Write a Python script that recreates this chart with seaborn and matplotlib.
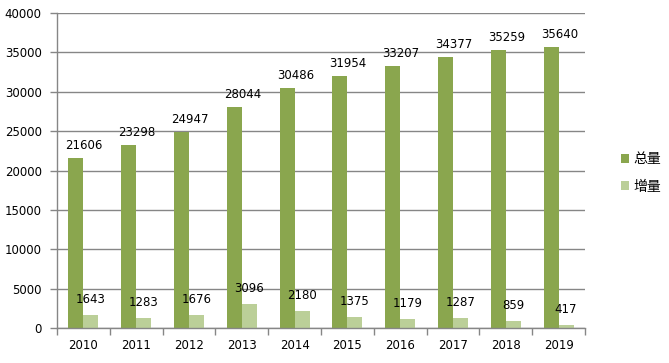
import pandas as pd
import matplotlib.pyplot as plt
from matplotlib.ticker import FixedLocator
import seaborn as sns

# data
years = ['2010', '2011', '2012', '2013', '2014', '2015', '2016', '2017', '2018', '2019']
total = [21606, 23298, 24947, 28044, 30486, 31954, 33207, 34377, 35259, 35640]
increase = [1643, 1283, 1676, 3096, 2180, 1375, 1179, 1287, 859, 417]
series_names = ['总量', '增量']
y_ticks = [0, 5000, 10000, 15000, 20000, 25000, 30000, 35000, 40000]

df = pd.DataFrame({
    'year': years * 2,
    'value': total + increase,
    'series': [series_names[0]] * len(years) + [series_names[1]] * len(years),
})

sns.set_theme(style='white')
plt.rcParams['font.family'] = ['DejaVu Sans', 'Noto Sans CJK SC']
plt.rcParams['text.color'] = 'black'

grid_c = '#868686'
colors = ['#8AA64E', '#BBCF98']

fig = plt.figure(figsize=(6.69, 3.63), dpi=100)
ax = fig.add_axes([57 / 669, 35 / 363, 528 / 669, 315 / 363])

sns.barplot(data=df, x='year', y='value', hue='series', palette=colors,
            width=0.57, saturation=1, linewidth=0, ax=ax, legend=True)

ax.set_xlim(-0.5, len(years) - 0.5)
ax.set_ylim(0, 40000)
ax.set_yticks(y_ticks)
ax.yaxis.grid(True, color=grid_c, linewidth=1)
ax.set_axisbelow(True)
ax.set_xlabel('')
ax.set_ylabel('')

for s in ['top', 'right']:
    ax.spines[s].set_visible(False)
for s in ['left', 'bottom']:
    ax.spines[s].set_color(grid_c)
    ax.spines[s].set_linewidth(1)

ax.tick_params(axis='y', left=True, length=5, color=grid_c, width=1,
               labelsize=8.5, labelcolor='black', pad=6)
ax.tick_params(axis='x', which='major', length=0, labelsize=8.5,
               labelcolor='black', pad=8)
ax.xaxis.set_minor_locator(FixedLocator([i - 0.5 for i in range(len(years) + 1)]))
ax.tick_params(axis='x', which='minor', bottom=True, length=5, color=grid_c, width=1)

bw = 0.57 / 2
for i in range(len(years)):
    ax.annotate(str(total[i]), (i - bw / 2, total[i]), xytext=(6, 9),
                textcoords='offset points', ha='center', va='center',
                fontsize=8.5, color='black')
    ax.annotate(str(increase[i]), (i + bw / 2, increase[i]), xytext=(0, 11),
                textcoords='offset points', ha='center', va='center',
                fontsize=8.5, color='black')

handles, labels = ax.get_legend_handles_labels()
ax.get_legend().remove()
fig.legend(handles, labels, loc='center left', bbox_to_anchor=(608 / 669, 1 - 173 / 363),
           frameon=False, fontsize=10, handlelength=0.6, handleheight=0.6,
           handletextpad=0.3, labelspacing=0.95, labelcolor='black')

fig.savefig('out.png', dpi=100)
